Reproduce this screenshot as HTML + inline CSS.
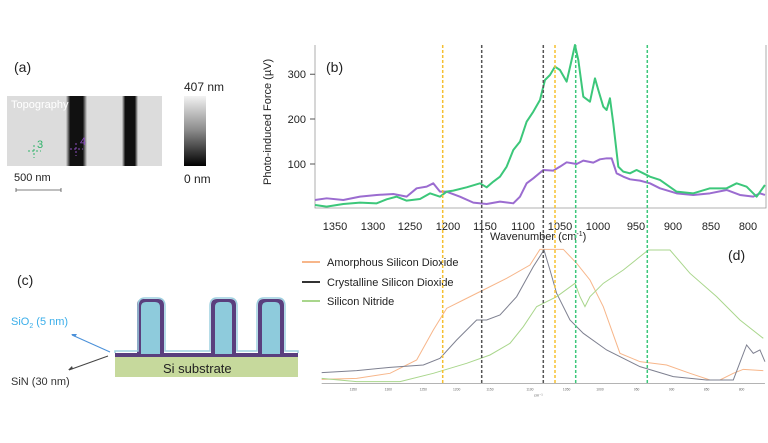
<!DOCTYPE html>
<html><head><meta charset="utf-8"><style>
html,body{margin:0;padding:0;background:#fff;}
svg{display:block;font-family:"Liberation Sans",Arial,sans-serif;}
</style></head><body>
<svg width="768" height="443" viewBox="0 0 768 443" xmlns="http://www.w3.org/2000/svg">
<defs>
<linearGradient id="cb" x1="0" y1="0" x2="0" y2="1"><stop offset="0" stop-color="#f2f2f2"/><stop offset="0.5" stop-color="#888"/><stop offset="1" stop-color="#000"/></linearGradient>
<linearGradient id="b1" x1="0" x2="1"><stop offset="0" stop-color="#d8d8d8"/><stop offset="0.2" stop-color="#111"/><stop offset="0.8" stop-color="#111"/><stop offset="1" stop-color="#d8d8d8"/></linearGradient>
</defs>
<!-- panel a -->
<text x="14" y="72" font-size="14" fill="#222">(a)</text>
<rect x="7" y="96" width="155" height="70" fill="#dcdcdc"/>
<rect x="66" y="96" width="21" height="70" fill="url(#b1)"/>
<rect x="122" y="96" width="16" height="70" fill="url(#b1)"/>
<text x="11" y="108" font-size="11" fill="#fff">Topography</text>
<text x="37" y="148" font-size="11" fill="#2fb36a">3</text>
<path d="M28 151h13M34 145v13" stroke="#2fb36a" stroke-dasharray="2 2"/>
<text x="80" y="145" font-size="11" fill="#8a4fc0">4</text>
<path d="M70 149h13M76 143v13" stroke="#8a4fc0" stroke-dasharray="2 2"/>
<text x="14" y="181" font-size="11" fill="#222">500 nm</text>
<path d="M16 190h45M16 188v4M61 188v4" stroke="#555" stroke-width="0.8"/>
<rect x="184" y="96" width="22" height="70" fill="url(#cb)"/>
<text x="184" y="91" font-size="12" fill="#222">407 nm</text>
<text x="184" y="183" font-size="12" fill="#222">0 nm</text>

<!-- panel b -->
<text transform="translate(271,185) rotate(-90)" font-size="11" fill="#222">Photo-induced Force (µV)</text>
<path d="M315 45V208H766V45" fill="none" stroke="#999" stroke-width="0.8"/>
<g font-size="11" fill="#222" text-anchor="end">
<text x="306" y="78">300</text><text x="306" y="123">200</text><text x="306" y="168">100</text>
</g>
<path d="M310 74.3h5M310 119h5M310 164h5" stroke="#555"/>
<g font-size="11" fill="#222" text-anchor="middle">
<text x="335" y="230">1350</text><text x="373" y="230">1300</text><text x="410" y="230">1250</text><text x="448" y="230">1200</text><text x="485" y="230">1150</text><text x="523" y="230">1100</text><text x="560" y="230">1050</text><text x="598" y="230">1000</text><text x="636" y="230">950</text><text x="673" y="230">900</text><text x="711" y="230">850</text><text x="748" y="230">800</text>
</g>
<text x="490" y="240" font-size="11" fill="#222">Wavenumber (cm<tspan font-size="7" dy="-4">-1</tspan><tspan dy="4">)</tspan></text>
<text x="326" y="72" font-size="14" fill="#222">(b)</text>
<g transform="translate(260,40) scale(0.3333)" fill="none" stroke-width="6" stroke-linejoin="round">
<polyline stroke="#9b6cd0" points="165,480 200,475 250,480 300,470 350,465 400,462 440,470 470,445 500,440 520,430 540,455 560,455 600,470 640,488 680,492 720,485 760,490 780,470 800,430 820,415 850,390 880,392 900,380 920,367 950,372 970,362 1000,368 1020,358 1040,355 1055,355 1070,400 1090,410 1110,418 1140,422 1170,430 1200,445 1250,460 1300,465 1350,460 1400,450 1440,465 1480,470 1500,460 1515,465"/>
<polyline stroke="#3cc77a" points="165,495 200,500 250,492 300,488 350,490 380,478 410,470 440,482 480,477 510,460 540,470 560,455 580,452 620,442 660,430 680,442 700,425 720,410 740,380 760,330 780,305 800,245 820,215 840,180 855,120 870,105 885,80 900,90 920,125 935,60 945,15 955,60 970,170 990,185 1005,115 1015,150 1030,200 1040,210 1050,175 1060,250 1075,380 1090,395 1110,400 1130,390 1150,400 1170,410 1200,420 1250,455 1300,460 1350,445 1400,445 1430,430 1460,440 1490,470 1515,435"/>
</g>

<!-- panel d -->
<g transform="translate(290,240) scale(0.3333)" fill="none" stroke-width="3">
<polyline stroke="#f7b68a" points="95,418 200,415 300,400 380,360 430,270 470,205 520,180 580,150 650,115 720,75 750,28 820,28 860,70 900,120 940,200 990,340 1050,365 1130,375 1200,400 1260,420 1290,420 1330,400 1360,388 1420,392"/>
<polyline stroke="#7e8090" points="95,398 200,392 300,382 400,375 450,355 500,300 560,240 590,240 630,225 680,170 730,80 762,30 780,90 800,160 840,240 880,280 950,330 1050,380 1150,410 1250,420 1330,420 1370,315 1390,340 1410,330 1425,365"/>
<polyline stroke="#a9d68c" points="95,415 200,425 330,425 430,400 530,370 600,345 660,310 700,260 740,200 800,170 855,130 870,170 885,200 900,170 940,130 1000,90 1050,50 1075,30 1140,30 1200,100 1280,170 1350,240 1420,295"/>
<path d="M95 430H1425" stroke="#888" stroke-width="2"/>
<g font-size="10" fill="#666" text-anchor="middle" stroke="none">
<text x="190" y="452">1350</text><text x="295" y="452">1300</text><text x="400" y="452">1250</text><text x="500" y="452">1200</text><text x="600" y="452">1150</text><text x="720" y="452">1100</text><text x="830" y="452">1050</text><text x="930" y="452">1000</text><text x="1040" y="452">950</text><text x="1145" y="452">900</text><text x="1250" y="452">850</text><text x="1355" y="452">800</text>
<text x="745" y="470" font-size="12">cm⁻¹</text>
</g>
</g>
<g font-size="11" fill="#222">
<path d="M302 262h18" stroke="#f7b68a" stroke-width="2"/><text x="327" y="266">Amorphous Silicon Dioxide</text>
<path d="M302 282h18" stroke="#333" stroke-width="2"/><text x="327" y="286">Crystalline Silicon Dioxide</text>
<path d="M302 301h18" stroke="#a9d68c" stroke-width="2"/><text x="327" y="305">Silicon Nitride</text>
</g>
<text x="728" y="260" font-size="14" fill="#222">(d)</text>

<!-- dashed lines -->
<g stroke-width="1.5" stroke-dasharray="3 2">
<path d="M442.7 45V384M555 45V384" stroke="#f5c030"/>
<path d="M481.7 45V384M543.3 45V384" stroke="#555"/>
<path d="M575.7 45V384M647.3 45V384" stroke="#3cc77a"/>
</g>

<!-- panel c -->
<text x="17" y="285" font-size="14" fill="#222">(c)</text>
<rect x="115" y="357" width="183" height="20" fill="#c6d99c"/>
<path d="M115 357V353H137V305Q137 299 143 299H158Q164 299 164 305V353H211V305Q211 299 217 299H230Q236 299 236 305V353H258V305Q258 299 264 299H278Q284 299 284 305V353H298V357Z" fill="#5a3f7e"/>
<path d="M115 353V351H138V306Q138 298 145 298H157Q165 298 165 306V351H210V306Q210 298 217 298H230Q237 298 237 306V351H257V306Q257 298 264 298H278Q285 298 285 306V351H298V353" fill="none" stroke="#9ed0e0" stroke-width="1.5"/>
<path d="M141 354V307Q141 302 146 302H155Q160 302 160 307V354ZM215 354V307Q215 302 220 302H228Q232 302 232 307V354ZM262 354V307Q262 302 267 302H275Q280 302 280 307V354Z" fill="#8ecbdc"/>
<text x="163" y="373" font-size="13" fill="#222">Si substrate</text>
<text x="11" y="325" font-size="11" fill="#3aaeea">SiO<tspan font-size="7" dy="3">2</tspan><tspan dy="-3"> (5 nm)</tspan></text>
<text x="11" y="385" font-size="11" fill="#333">SiN (30 nm)</text>
<path d="M110 352L72 335" stroke="#4a90d9"/><path d="M71 334l6 0l-2 3z" fill="#4a90d9"/>
<path d="M108 356L69 370" stroke="#444"/><path d="M68 370l4-4l1 3z" fill="#444"/>
</svg>
</body></html>
